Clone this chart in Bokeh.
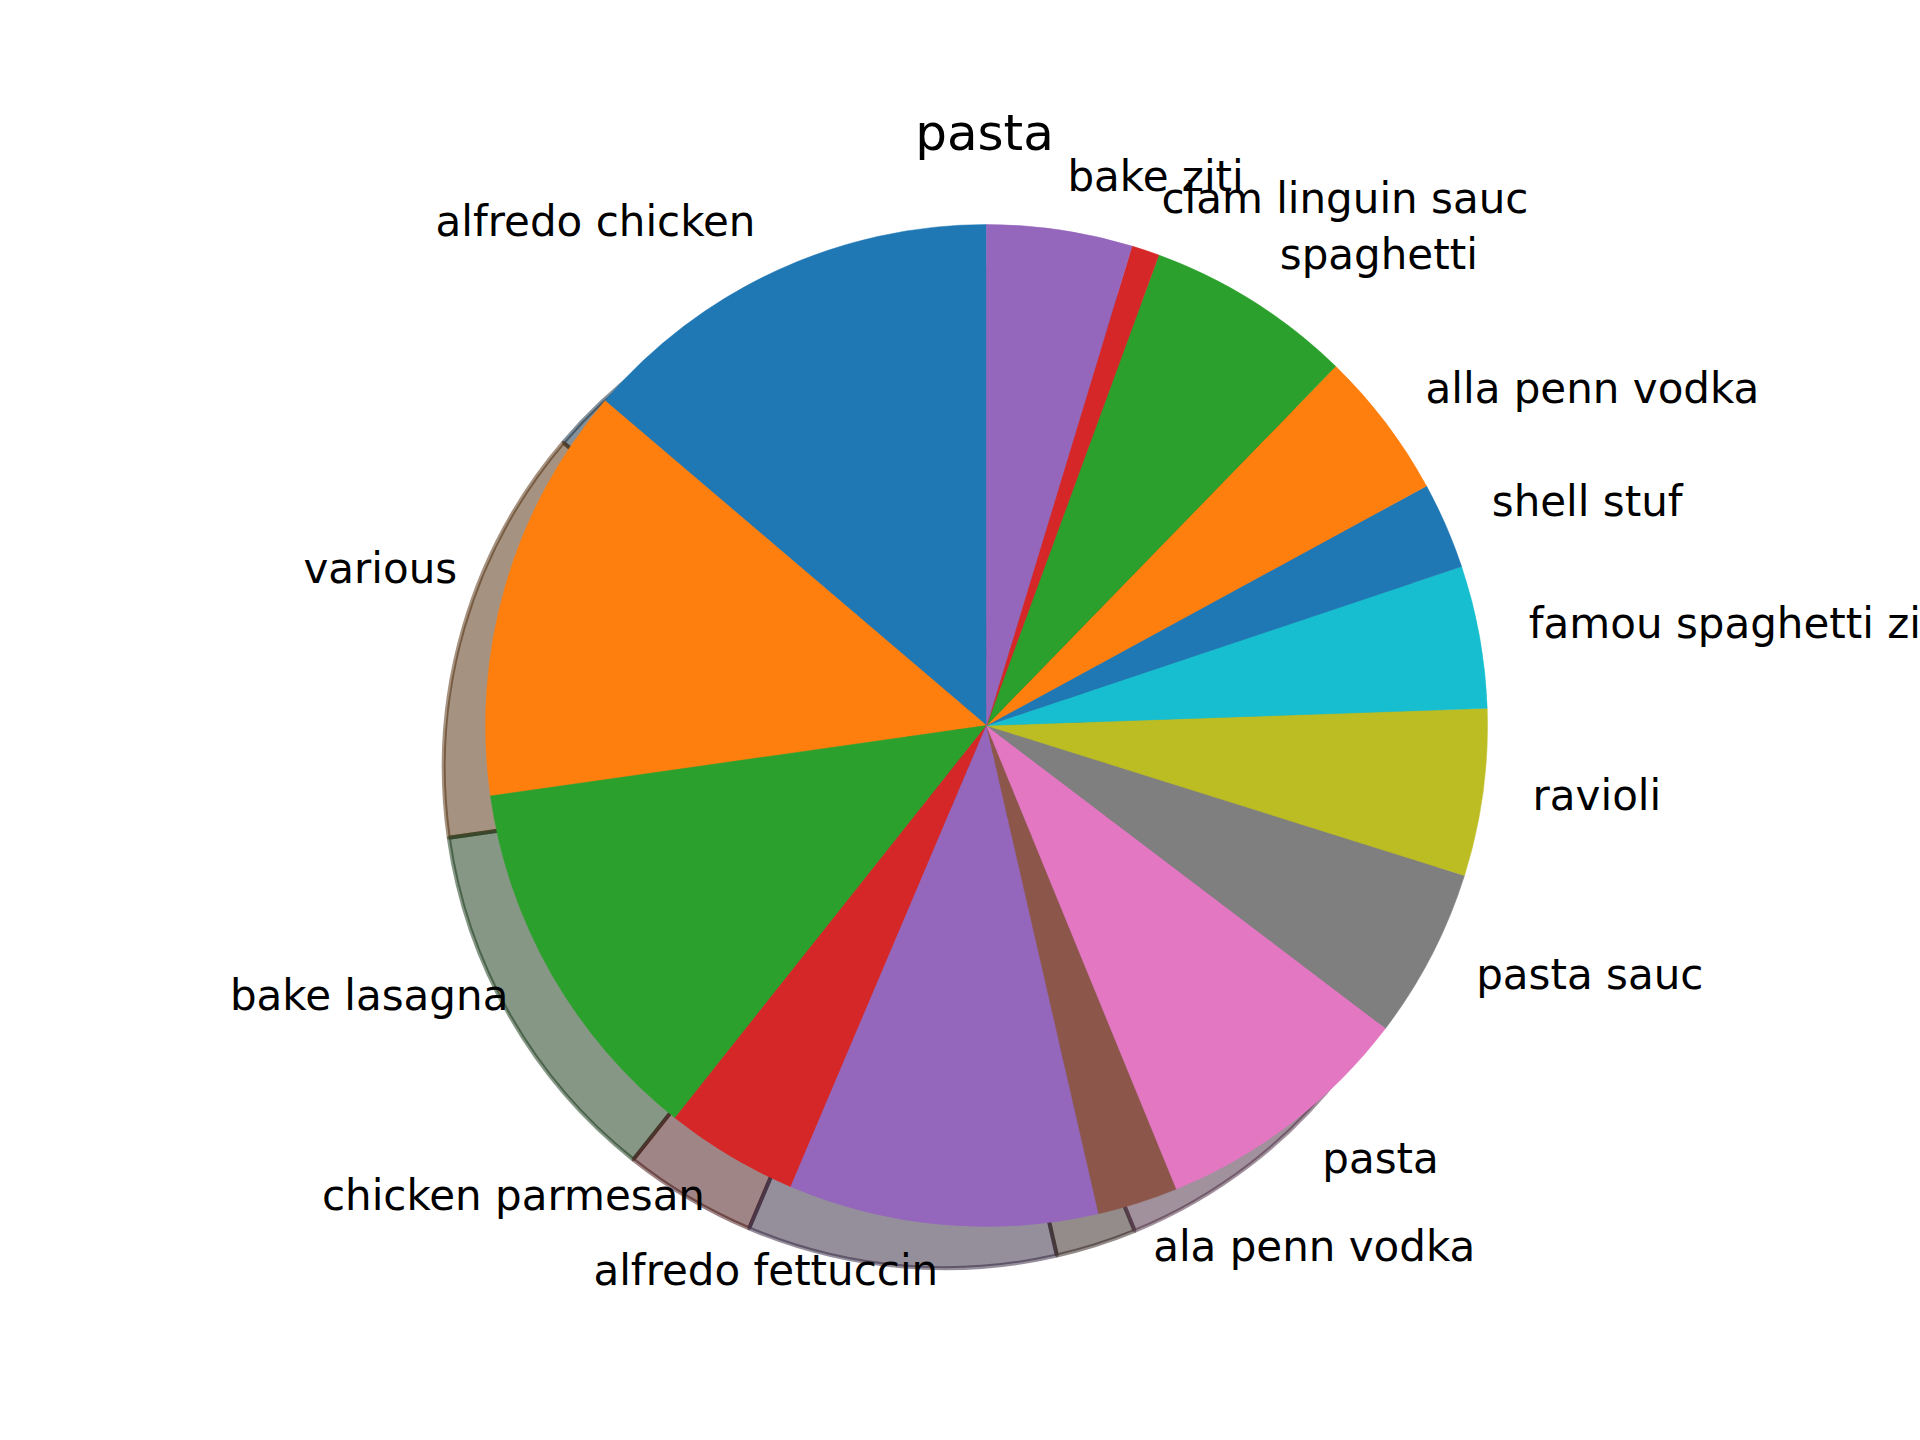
import numpy as np
from bokeh.plotting import figure
from bokeh.models import ColumnDataSource
from bokeh.core.properties import value
from bokeh.embed import file_html
from bokeh.resources import INLINE

chart_title = "pasta"
labels = ["alfredo chicken", "various", "bake lasagna", "chicken parmesan",
          "alfredo fettuccin", "ala penn vodka", "pasta", "pasta sauc",
          "ravioli", "famou spaghetti ziti", "shell stuf", "alla penn vodka",
          "spaghetti", "clam linguin sauc", "bake ziti"]
values = [13.8, 13.5, 12.1, 4.3, 10.0, 2.6, 8.5, 5.5, 5.4, 4.6, 2.8, 4.8, 6.7, 0.9, 4.7]

tab10 = ["#1f77b4", "#ff7f0e", "#2ca02c", "#d62728", "#9467bd",
         "#8c564b", "#e377c2", "#7f7f7f", "#bcbd22", "#17becf"]

W, H = 1920, 1440
cx, cy = 986.0, H - 725.0
R = 501.0
shadow_off = 0.0833 * R

vals = np.array(values, dtype=float)
frac = vals / vals.sum()
ends = np.pi / 2 + 2 * np.pi * np.cumsum(frac)
starts = ends - 2 * np.pi * frac
mids = (starts + ends) / 2

colors = [tab10[i % 10] for i in range(len(labels))]

def shade(hexc):
    h = hexc.lstrip("#")
    r, g, b = (int(h[i:i + 2], 16) for i in (0, 2, 4))
    return "#%02x%02x%02x" % (int(0.3 * r), int(0.3 * g), int(0.3 * b))

shadow_colors = [shade(c) for c in colors]

src = ColumnDataSource(dict(start=starts, end=ends, color=colors, scolor=shadow_colors,
                            x=[cx] * len(labels), y=[cy] * len(labels),
                            sx=[cx - shadow_off] * len(labels), sy=[cy - shadow_off] * len(labels)))

p = figure(width=W, height=H, x_range=(0, W), y_range=(0, H),
           x_axis_type=None, y_axis_type=None, toolbar_location=None,
           output_backend="svg", min_border=0)
p.outline_line_color = None
p.grid.visible = False
p.background_fill_color = "white"
p.border_fill_color = "white"

# shadows
p.wedge(x="sx", y="sy", radius=R, start_angle="start", end_angle="end",
        direction="anticlock", fill_color="scolor", fill_alpha=0.5,
        line_color="scolor", line_alpha=0.5, line_width=4, source=src)
# slices
p.wedge(x="x", y="y", radius=R, start_angle="start", end_angle="end",
        direction="anticlock", fill_color="color", line_color="color",
        line_width=0.5, source=src)

lx = cx + 1.1 * R * np.cos(mids)
ly = cy + 1.1 * R * np.sin(mids) + 4
align = ["left" if np.cos(m) > 0 else "right" for m in mids]
lsrc = ColumnDataSource(dict(x=lx, y=ly, text=labels, align=align))
p.text(x="x", y="y", text="text", text_align="align", text_baseline="middle",
       text_font=value("DejaVu Sans"), text_font_size="42px", text_color="black",
       source=lsrc)

p.text(x=[984], y=[H - 132], text=[chart_title], text_align="center",
       text_baseline="alphabetic", text_font=value("DejaVu Sans"),
       text_font_size="50px", text_color="black")

open("out.html", "w").write(file_html(p, INLINE))
